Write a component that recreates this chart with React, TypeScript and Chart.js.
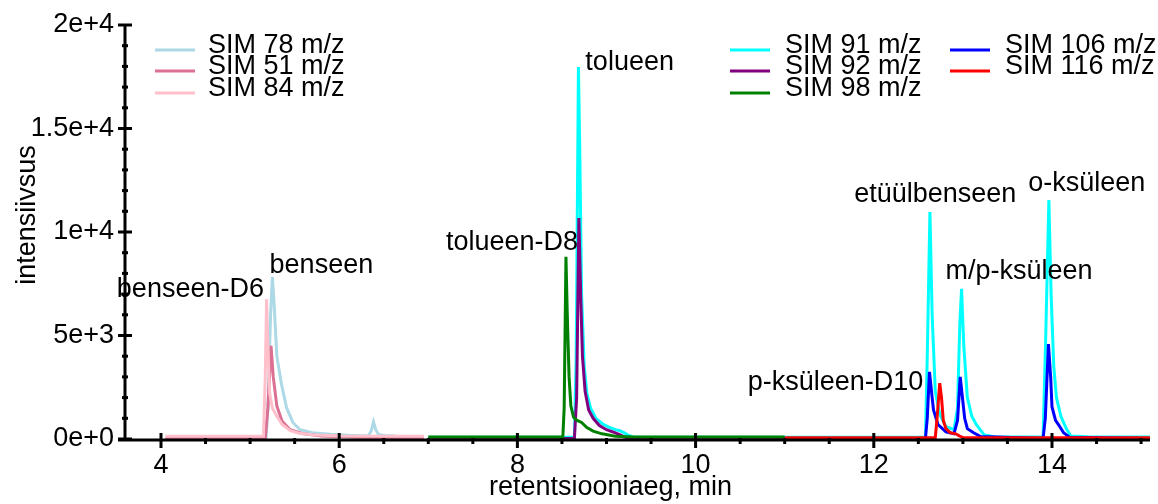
import { useEffect, useRef } from "react";
import { Chart, registerables } from "chart.js";

Chart.register(...registerables);

// ---- data (retention time in min, intensity) ----
const seriesNames = [
  "SIM 78 m/z",
  "SIM 51 m/z",
  "SIM 84 m/z",
  "SIM 91 m/z",
  "SIM 92 m/z",
  "SIM 98 m/z",
  "SIM 106 m/z",
  "SIM 116 m/z",
];
const seriesColors = [
  "#ADD8E6",
  "#DB7093",
  "#FFC0CB",
  "#00FFFF",
  "#800080",
  "#008000",
  "#0000FF",
  "#FF0000",
];

const sim78: [number, number][] = [
  [4.05, 60], [5.18, 60], [5.2, 1500], [5.23, 6000], [5.25, 7830], [5.27, 6500],
  [5.3, 4000], [5.35, 2700], [5.41, 1500], [5.48, 800], [5.56, 450], [5.7, 300],
  [5.9, 230], [6.1, 180], [6.33, 150], [6.36, 400], [6.385, 820], [6.41, 450],
  [6.44, 220], [6.5, 170], [6.63, 150],
];
const sim51: [number, number][] = [
  [4.05, 30], [5.17, 30], [5.2, 1500], [5.235, 4500], [5.26, 3000], [5.3, 1600],
  [5.36, 850], [5.45, 450], [5.6, 250], [5.8, 150], [6.2, 90], [6.95, 60],
];
const sim84: [number, number][] = [
  [4.05, 130], [5.15, 130], [5.17, 3000], [5.185, 6760], [5.2, 4500], [5.22, 2200],
  [5.25, 1500], [5.3, 1100], [5.36, 700], [5.45, 400], [5.55, 280], [5.7, 200],
  [6.0, 150], [6.95, 130],
];
const sim91: [number, number][] = [
  [7.0, 80], [8.64, 80], [8.66, 4000], [8.685, 17970], [8.7, 14000], [8.72, 7000],
  [8.75, 3500], [8.78, 2200], [8.82, 1500], [8.88, 1000], [8.95, 750], [9.02, 580],
  [9.1, 450], [9.15, 400], [9.2, 300], [9.24, 190], [9.3, 100], [11.0, 80],
  [12.58, 80], [12.6, 4000], [12.63, 10970], [12.655, 6000], [12.69, 2300],
  [12.74, 1200], [12.81, 600], [12.9, 450], [12.94, 1500], [12.965, 5500],
  [12.985, 7250], [13.01, 4500], [13.05, 2000], [13.1, 1100], [13.15, 700],
  [13.24, 190], [13.35, 110], [13.9, 100], [13.93, 5000], [13.965, 11550],
  [13.99, 7000], [14.02, 3500], [14.05, 2000], [14.1, 1100], [14.16, 500],
  [14.21, 150], [14.4, 110], [15.1, 100],
];
const sim92: [number, number][] = [
  [7.0, 30], [8.64, 30], [8.665, 2000], [8.69, 10680], [8.71, 7000], [8.73, 4000],
  [8.76, 2300], [8.8, 1400], [8.85, 1000], [8.92, 650], [9.0, 450], [9.1, 300],
  [9.16, 190], [9.22, 60], [11.0, 30],
];
const sim98: [number, number][] = [
  [7.0, 100], [8.51, 100], [8.525, 1500], [8.545, 8800], [8.56, 6000], [8.58, 3000],
  [8.6, 1600], [8.63, 1050], [8.67, 900], [8.72, 800], [8.78, 550], [8.85, 380],
  [8.95, 250], [9.1, 130], [9.3, 100], [11.0, 100],
];
const sim106: [number, number][] = [
  [11.0, 30], [12.58, 30], [12.6, 1000], [12.625, 3240], [12.65, 2200], [12.67, 1400],
  [12.72, 700], [12.81, 340], [12.9, 250], [12.94, 900], [12.97, 3000], [12.995, 2000],
  [13.02, 1000], [13.05, 500], [13.12, 300], [13.2, 120], [13.9, 30], [13.925, 1000],
  [13.96, 4590], [13.985, 3000], [14.0, 1550], [14.04, 900], [14.08, 650], [14.13, 300],
  [14.2, 80], [15.1, 30],
];
const sim116: [number, number][] = [
  [11.0, 60], [12.69, 60], [12.71, 1000], [12.74, 2700], [12.76, 2000], [12.78, 900],
  [12.81, 500], [12.86, 300], [12.92, 250], [12.96, 150], [13.0, 70], [15.1, 60],
];
const seriesData = [sim78, sim51, sim84, sim91, sim92, sim98, sim106, sim116];

// legend columns (indices into series)
const legendColumns = [[0, 1, 2], [3, 4, 5], [6, 7]];

// peak annotations: text, anchor at (min, intensity)
const annotationTexts = [
  "benseen-D6", "benseen", "tolueen-D8", "tolueen",
  "etüülbenseen", "o-ksüleen", "m/p-ksüleen", "p-ksüleen-D10",
];
const annotationTimes = [4.33, 5.8, 7.94, 9.26, 12.69, 14.39, 13.63, 11.57];
const annotationIntensities = [7200, 8360, 9470, 18210, 11790, 12320, 8070, 2710];

// axis ticks
const xTickValues = [4, 6, 8, 10, 12, 14];
const xTickLabels = ["4", "6", "8", "10", "12", "14"];
const yTickValues = [0, 5000, 10000, 15000, 20000];
const yTickLabels = ["0e+0", "5e+3", "1e+4", "1.5e+4", "2e+4"];
const xTitle = "retentsiooniaeg, min";
const yTitle = "intensiivsus";

const FONT = '27px "Liberation Sans", Arial, sans-serif';

const decorPlugin = {
  id: "decor",
  afterDatasetsDraw(chart: any) {
    const ctx: CanvasRenderingContext2D = chart.ctx;
    const xs = chart.scales.x;
    const ys = chart.scales.y;
    const area = chart.chartArea;
    ctx.save();
    ctx.strokeStyle = "#000";
    ctx.fillStyle = "#000";
    ctx.lineCap = "butt";

    // y axis
    const ax = area.left;
    ctx.lineWidth = 3;
    ctx.beginPath();
    ctx.moveTo(ax, ys.getPixelForValue(ys.max) - 1);
    ctx.lineTo(ax, ys.getPixelForValue(0) + 1);
    ctx.stroke();
    // y ticks (major every 5000, minor every 1000)
    for (let v = 0; v <= ys.max; v += 1000) {
      const y = ys.getPixelForValue(v);
      const major = v % 5000 === 0;
      ctx.beginPath();
      ctx.moveTo(ax - (major ? 7 : 3), y);
      ctx.lineTo(ax + (major ? 7 : 3), y);
      ctx.stroke();
    }
    // x axis
    const ay = area.bottom + 1;
    ctx.beginPath();
    ctx.moveTo(area.left - 7, ay);
    ctx.lineTo(area.right, ay);
    ctx.stroke();
    for (let t = 4; t <= xs.max + 1e-9; t += 0.5) {
      const x = xs.getPixelForValue(t);
      const major = Math.abs(t - Math.round(t)) < 1e-9 && Math.round(t) % 2 === 0;
      ctx.beginPath();
      if (major) {
        ctx.moveTo(x, ay - 7);
        ctx.lineTo(x, ay + 8);
      } else {
        ctx.moveTo(x, ay - 2);
        ctx.lineTo(x, ay + 4);
      }
      ctx.stroke();
    }

    ctx.font = FONT;
    // y tick labels
    ctx.textAlign = "right";
    ctx.textBaseline = "middle";
    yTickValues.forEach((v, i) => {
      ctx.fillText(yTickLabels[i], ax - 11, ys.getPixelForValue(v));
    });
    // x tick labels
    ctx.textAlign = "center";
    xTickValues.forEach((v, i) => {
      ctx.fillText(xTickLabels[i], xs.getPixelForValue(v), ay + 26);
    });
    // axis titles
    ctx.fillText(xTitle, (area.left + area.right) / 2 - 27, ay + 48);
    ctx.save();
    ctx.translate(28, (area.top + area.bottom) / 2 - 17);
    ctx.rotate(-Math.PI / 2);
    ctx.fillText(yTitle, 0, 0);
    ctx.restore();

    // annotations
    ctx.textAlign = "center";
    annotationTexts.forEach((txt, i) => {
      ctx.fillText(
        txt,
        xs.getPixelForValue(annotationTimes[i]),
        ys.getPixelForValue(annotationIntensities[i])
      );
    });

    // legend
    const colLineX = [155, 730, 950];
    const rowY = [46, 67, 89];
    ctx.textAlign = "left";
    legendColumns.forEach((col, c) => {
      col.forEach((idx, r) => {
        const lx = colLineX[c];
        const y = rowY[r];
        ctx.strokeStyle = seriesColors[idx];
        ctx.lineWidth = 3;
        ctx.beginPath();
        ctx.moveTo(lx, y + 4);
        ctx.lineTo(lx + 40, y + 4);
        ctx.stroke();
        ctx.fillStyle = "#000";
        ctx.fillText(seriesNames[idx], lx + (c === 0 ? 53 : 55), y);
      });
    });
    ctx.restore();
  },
};

export default function App() {
  const ref = useRef<HTMLCanvasElement | null>(null);
  useEffect(() => {
    if (!ref.current) return;
    const n = seriesData.length;
    const chart = new Chart(ref.current, {
      type: "line",
      data: {
        datasets: seriesData.map((d, i) => ({
          label: seriesNames[i],
          data: d.map(([x, y]) => ({ x, y })),
          borderColor: seriesColors[i],
          backgroundColor: seriesColors[i],
          borderWidth: 3,
          pointRadius: 0,
          tension: 0,
          fill: false,
          order: n - i,
        })),
      },
      options: {
        responsive: false,
        maintainAspectRatio: false,
        animation: false,
        layout: { padding: { left: 125, right: 8, top: 25, bottom: 65 } },
        plugins: {
          legend: { display: false },
          tooltip: { enabled: false },
          title: { display: false },
        },
        scales: {
          x: { type: "linear", min: 3.596, max: 15.1, display: false },
          y: { type: "linear", min: 0, max: 20000, display: false },
        },
      },
      plugins: [decorPlugin],
    });
    return () => chart.destroy();
  }, []);
  return (
    <div
      style={{
        position: "fixed",
        left: 0,
        top: 0,
        width: 1158,
        height: 504,
        background: "#fff",
      }}
    >
      <canvas ref={ref} width={1158} height={504} style={{ display: "block" }} />
    </div>
  );
}
